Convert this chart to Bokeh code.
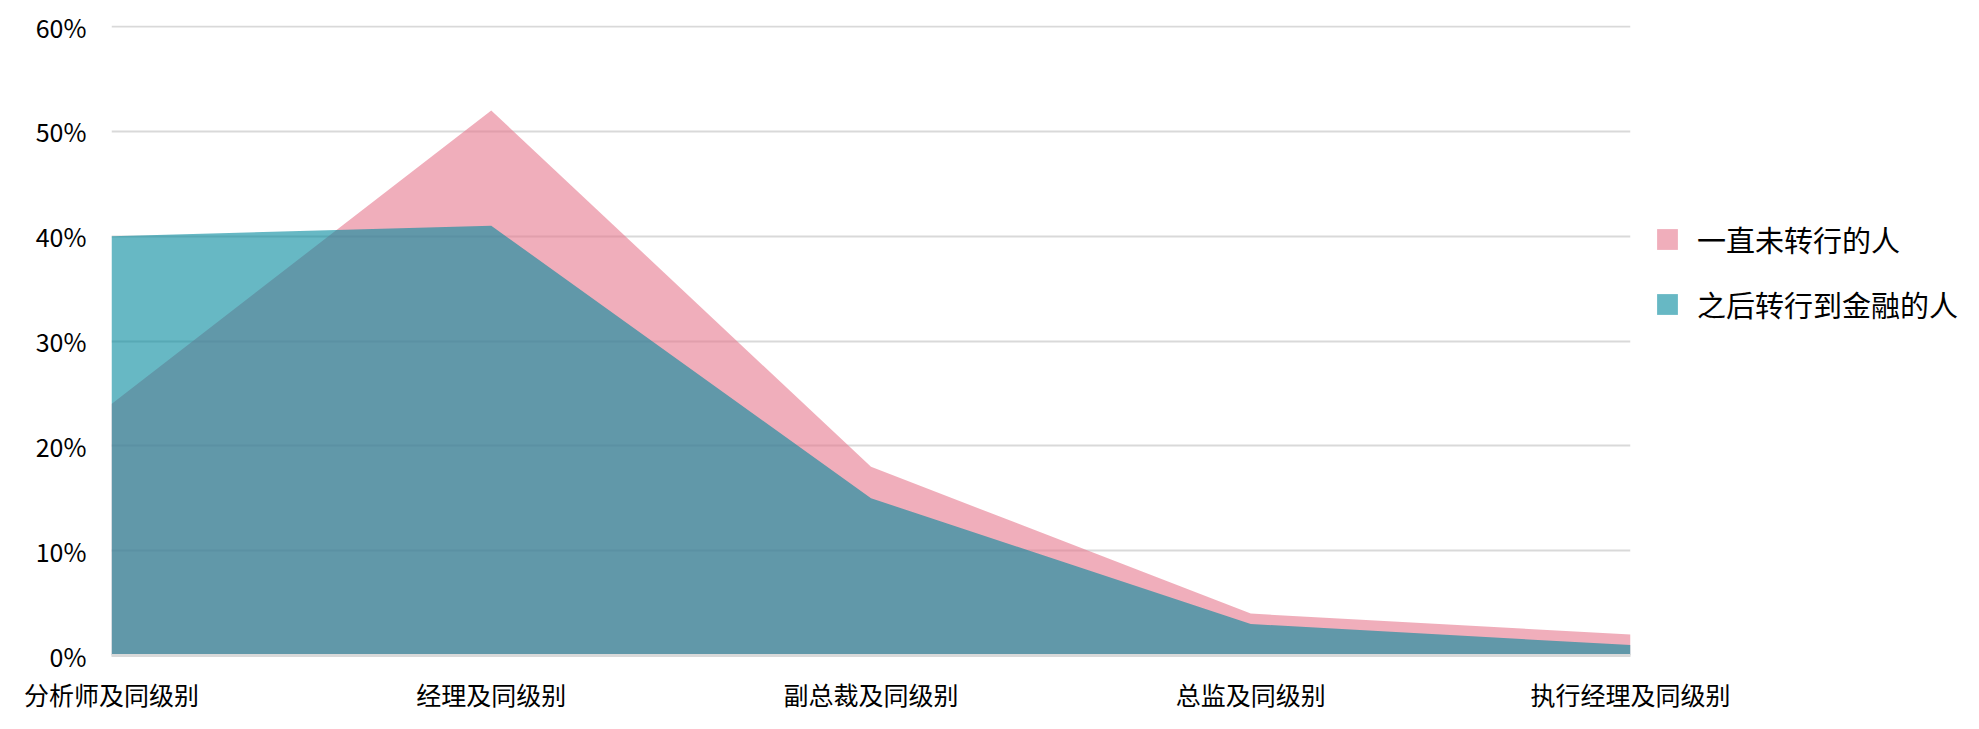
from bokeh.plotting import figure
from bokeh.models import Range1d, FixedTicker, PrintfTickFormatter, Legend, LegendItem
from bokeh.embed import file_html
from bokeh.resources import INLINE

categories = ["分析师及同级别", "经理及同级别", "副总裁及同级别", "总监及同级别", "执行经理及同级别"]
stayed = [24, 52, 18, 4, 2]          # 一直未转行的人 (%)
to_finance = [40, 41, 15, 3, 1]      # 之后转行到金融的人 (%)
y_ticks = [0, 10, 20, 30, 40, 50, 60]
series_names = ["一直未转行的人", "之后转行到金融的人"]

FONT = "Noto Sans CJK SC"
x = list(range(len(categories)))

p = figure(frame_width=1519, frame_height=630, output_backend="svg", toolbar_location=None,
           x_range=Range1d(0, len(categories) - 1), y_range=Range1d(0, 60.1),
           min_border_left=111, min_border_right=335, min_border_top=25, min_border_bottom=60)

r1 = p.varea(x=x, y1=0, y2=stayed, fill_color="#E6788E", fill_alpha=0.6)
r2 = p.varea(x=x, y1=0, y2=to_finance, fill_color="#02899D", fill_alpha=0.6)

p.outline_line_color = None
p.xgrid.grid_line_color = None
p.ygrid.grid_line_color = "#d9d9d9"
p.ygrid.grid_line_width = 2
p.ygrid.ticker = FixedTicker(ticks=y_ticks)

p.yaxis.ticker = FixedTicker(ticks=y_ticks)
p.yaxis.formatter = PrintfTickFormatter(format="%d%%")
p.yaxis.axis_line_color = None
p.yaxis.major_tick_line_color = None
p.yaxis.minor_tick_line_color = None
p.yaxis.major_label_standoff = 19
p.yaxis.major_label_text_font = FONT
p.yaxis.major_label_text_font_size = "25px"
p.yaxis.major_label_text_color = "#000000"

p.xaxis.ticker = FixedTicker(ticks=x)
p.xaxis.major_label_overrides = {i: c for i, c in zip(x, categories)}
p.xaxis.axis_line_color = "#d9d9d9"
p.xaxis.axis_line_width = 3
p.xaxis.major_tick_line_color = None
p.xaxis.minor_tick_line_color = None
p.xaxis.major_label_standoff = 14
p.xaxis.major_label_text_font = FONT
p.xaxis.major_label_text_font_size = "25px"
p.xaxis.major_label_text_color = "#000000"

legend = Legend(items=[LegendItem(label=series_names[0], renderers=[r1]),
                       LegendItem(label=series_names[1], renderers=[r2])],
                location=(24, 330))
legend.border_line_color = None
legend.background_fill_alpha = 0
legend.padding = 0
legend.margin = 0
legend.glyph_width = 26
legend.glyph_height = 26
legend.label_height = 34
legend.label_standoff = 17
legend.spacing = 23
legend.label_text_font = FONT
legend.label_text_font_size = "29px"
legend.label_text_color = "#000000"
p.add_layout(legend, "right")

open("out.html", "w").write(file_html(p, INLINE))
